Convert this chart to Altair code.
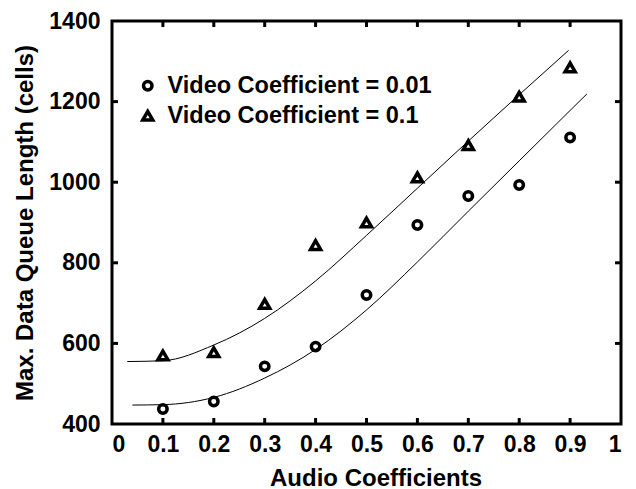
import altair as alt
import pandas as pd

# ---- data ----
audio = [0.1, 0.2, 0.3, 0.4, 0.5, 0.6, 0.7, 0.8, 0.9]
video_001 = [437, 456, 543, 592, 720, 894, 966, 993, 1111]
video_01 = [570, 578, 698, 844, 900, 1012, 1092, 1212, 1285]

fit_x_001 = [0.04, 0.1, 0.2, 0.3, 0.4, 0.5, 0.6, 0.7, 0.8, 0.9, 0.933]
fit_y_001 = [447, 448, 466, 514, 585, 683, 802, 928, 1053, 1178, 1219]
fit_x_01 = [0.03, 0.1, 0.2, 0.3, 0.4, 0.5, 0.6, 0.7, 0.8, 0.897]
fit_y_01 = [555, 557, 596, 662, 755, 868, 985, 1102, 1217, 1327]

series = ["Video Coefficient = 0.01", "Video Coefficient = 0.1"]
x_ticks = [0, 0.1, 0.2, 0.3, 0.4, 0.5, 0.6, 0.7, 0.8, 0.9, 1]
y_ticks = [400, 600, 800, 1000, 1200, 1400]
x_inner_ticks = [0.1, 0.2, 0.3, 0.4, 0.5, 0.6, 0.7, 0.8, 0.9]
y_inner_ticks = [600, 800, 1000, 1200]

W, H = 509, 403
FONT = "Liberation Sans"

pts = pd.DataFrame(
    {"audio": audio * 2,
     "queue": video_001 + video_01,
     "series": [series[0]] * len(audio) + [series[1]] * len(audio)}
)
fits = pd.DataFrame(
    {"audio": fit_x_001 + fit_x_01,
     "queue": fit_y_001 + fit_y_01,
     "series": [series[0]] * len(fit_x_001) + [series[1]] * len(fit_x_01)}
)
xt = pd.DataFrame({"v": x_inner_ticks})
yt = pd.DataFrame({"v": y_inner_ticks})

xscale = alt.Scale(domain=[0, 1], nice=False, zero=False)
yscale = alt.Scale(domain=[400, 1400], nice=False, zero=False)

x_axis = alt.Axis(values=x_ticks, title="Audio Coefficients", ticks=False, domain=False,
                  grid=False, labelPadding=9, titlePadding=10, titleX=W / 2 + 9,
                  labelExpr="datum.value == 0 ? '0' : datum.value == 1 ? '1' : format(datum.value, '.1f')")
y_axis = alt.Axis(values=y_ticks, title="Max. Data Queue Length (cells)", ticks=False,
                  domain=False, grid=False, labelPadding=12, titlePadding=11, format="d")

lines = alt.Chart(fits).mark_line(color="black", strokeWidth=1, interpolate="monotone").encode(
    x=alt.X("audio:Q", scale=xscale, axis=x_axis),
    y=alt.Y("queue:Q", scale=yscale, axis=y_axis),
    detail="series:N",
)

points = alt.Chart(pts).mark_point(filled=False, color="black", strokeWidth=3.5, opacity=1).encode(
    x=alt.X("audio:Q", scale=xscale),
    y=alt.Y("queue:Q", scale=yscale),
    shape=alt.Shape("series:N", scale=alt.Scale(domain=series, range=["circle", "triangle-up"]),
                    legend=alt.Legend(title=None, orient="none", legendX=24, legendY=53,
                                      padding=0, rowPadding=5, labelOffset=8, labelLimit=0)),
    size=alt.Size("series:N", scale=alt.Scale(domain=series, range=[72, 100])),
)

tick_rule = dict(color="black", strokeWidth=3)
bottom_t = alt.Chart(xt).mark_rule(**tick_rule).encode(
    x=alt.X("v:Q", scale=xscale), y=alt.value(H), y2=alt.value(H - 6))
top_t = alt.Chart(xt).mark_rule(**tick_rule).encode(
    x=alt.X("v:Q", scale=xscale), y=alt.value(0), y2=alt.value(6))
left_t = alt.Chart(yt).mark_rule(**tick_rule).encode(
    y=alt.Y("v:Q", scale=yscale), x=alt.value(0), x2=alt.value(6))
right_t = alt.Chart(yt).mark_rule(**tick_rule).encode(
    y=alt.Y("v:Q", scale=yscale), x=alt.value(W), x2=alt.value(W - 6))

chart = alt.layer(lines, points, bottom_t, top_t, left_t, right_t).properties(
    width=W, height=H,
    padding={"left": 5, "top": 2, "right": 3, "bottom": 2},
).configure_view(
    stroke="black", strokeWidth=3
).configure_axis(
    labelFont=FONT, labelFontSize=23, labelFontWeight="bold", labelColor="black",
    titleFont=FONT, titleFontSize=24, titleFontWeight="bold", titleColor="black",
).configure_legend(
    labelFont=FONT, labelFontSize=23.5, labelFontWeight="bold", labelColor="black",
    symbolStrokeWidth=3.5, symbolStrokeColor="black",
)

chart.save("out.html", embed_options={"renderer": "svg", "actions": False})
